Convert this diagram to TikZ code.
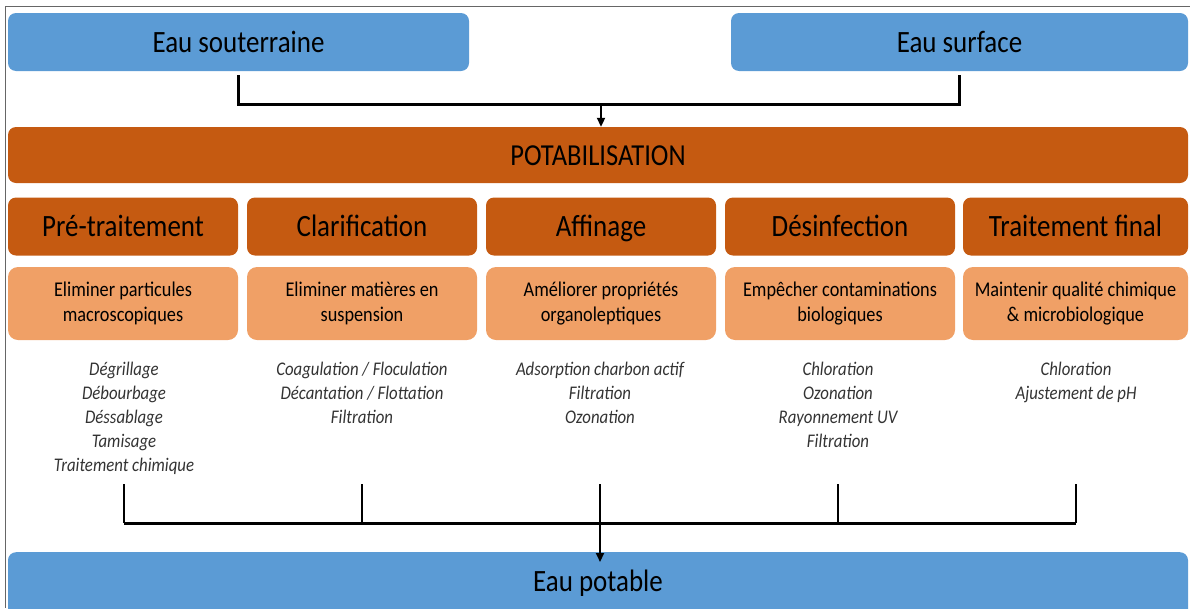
\documentclass[tikz,border=0pt]{standalone}
\usepackage{fontspec}
\setmainfont{Carlito}[FakeStretch=0.87]
\usetikzlibrary{arrows.meta}
\definecolor{eaublue}{RGB}{91,155,213}
\definecolor{darkorange}{RGB}{197,90,17}
\definecolor{lightorange}{RGB}{240,160,102}
\begin{document}
\begin{tikzpicture}[x=1pt,y=-1pt,
  box/.style={rounded corners=8pt, inner sep=0pt, align=center, text=black},
  bigtext/.style={font=\fontsize{31}{36}\selectfont, text height=22pt, text depth=2pt},
  bluebox/.style={box, bigtext, fill=eaublue, minimum height=58pt},
  potbox/.style={box, fill=darkorange, minimum height=56pt, font=\fontsize{30.5}{36}\selectfont, text height=22pt, text depth=2pt},
  stagebox/.style={box, bigtext, fill=darkorange, minimum width=230pt, minimum height=58pt},
  goalbox/.style={box, fill=lightorange, minimum width=230pt, minimum height=73pt, rounded corners=10pt, font=\fontsize{21}{25.5}\selectfont},
  methods/.style={inner sep=0pt, align=center, text=black!80, font=\fontsize{19.3}{24}\selectfont\itshape, anchor=north},
  conn/.style={line width=3pt, black},
  tick/.style={line width=1.5pt, black},
  arr/.style={line width=2pt, black, -{Triangle[width=8pt,length=9pt]}},
  frameline/.style={line width=1pt, black!60}
]
\useasboundingbox (0,0) rectangle (1190,608);
\clip (0,0) rectangle (1190,608);
% frame
\draw[frameline] (1190,6.5) -- (5.5,6.5) -- (5.5,608);
% sources
\node[bluebox, minimum width=461pt] (sout) at (238.5,42) {Eau souterraine};
\node[bluebox, minimum width=457pt] (surf) at (959.5,42) {Eau surface};
% potabilisation
\node[potbox, minimum width=1180pt] (potab) at (598,155) {POTABILISATION};
% stages
\node[stagebox] (s1) at (123,226.5) {Pré-traitement};
\node[stagebox] (s2) at (362,226.5) {Clarification};
\node[stagebox] (s3) at (601,226.5) {Affinage};
\node[stagebox] (s4) at (840,226.5) {Désinfection};
\node[stagebox, minimum width=225pt] (s5) at (1075.5,226.5) {Traitement final};
% goals
\node[goalbox] (g1) at (123,303.5) {Eliminer particules\\macroscopiques};
\node[goalbox] (g2) at (362,303.5) {Eliminer matières en\\suspension};
\node[goalbox] (g3) at (601,303.5) {Améliorer propriétés\\organoleptiques};
\node[goalbox] (g4) at (840,303.5) {Empêcher contaminations\\biologiques};
\node[goalbox, minimum width=225pt] (g5) at (1075.5,303.5) {Maintenir qualité chimique\\\& microbiologique};
% methods
\node[methods] (m1) at (124,362) {Dégrillage\\Débourbage\\Déssablage\\Tamisage\\Traitement chimique};
\node[methods] (m2) at (362,362) {Coagulation / Floculation\\Décantation / Flottation\\Filtration};
\node[methods] (m3) at (600,362) {Adsorption charbon actif\\Filtration\\Ozonation};
\node[methods] (m4) at (838,362) {Chloration\\Ozonation\\Rayonnement UV\\Filtration};
\node[methods] (m5) at (1076,362) {Chloration\\Ajustement de pH};
% output
\node[box, bigtext, fill=eaublue, minimum width=1180pt, minimum height=72pt, anchor=north] (pot) at (598,552) {\raisebox{7pt}{Eau potable}};
% top connector
\coordinate (j) at (601,104);
\draw[conn, shorten <=4pt, shorten >=4pt] (sout.south) |- (j) -| (surf.south);
\draw[arr] (j) -- (j |- potab.north);
% bottom connectors
\coordinate (h) at (600,523);
\foreach \x/\n in {124/1,362/2,600/3,838/4,1076/5}{
  \coordinate (b\n) at (\x,484);
  \draw[tick] (b\n) -- (b\n |- h);
}
\draw[conn] (b1 |- h) -- (b5 |- h);
\draw[arr, shorten >=-10pt] (h) -- (h |- pot.north);
\end{tikzpicture}
\end{document}
